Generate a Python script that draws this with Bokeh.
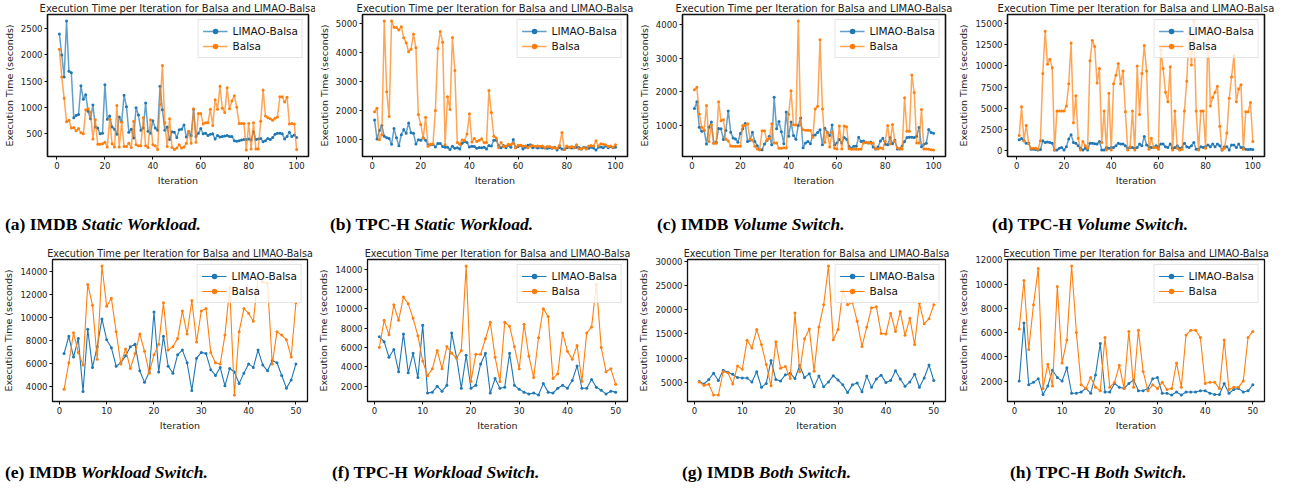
from bokeh.plotting import figure
from bokeh.layouts import column, row
from bokeh.models import Div, FixedTicker, Range1d, Legend, LegendItem
from bokeh.embed import file_html
from bokeh.resources import INLINE

# ---------------- data ----------------
iters_100 = list(range(1, 101))
iters_50 = list(range(1, 51))

a_limao = [2400, 2000, 1580, 2650, 1690, 1660, 800, 840, 860, 1410, 1150, 1240, 920, 780, 1040, 620, 600, 490, 500, 1430,
           770, 830, 620, 580, 480, 810, 720, 1230, 1010, 520, 580, 410, 990, 850, 560, 600, 1080, 540, 500, 740,
           600, 560, 1400, 950, 560, 620, 380, 530, 520, 420, 570, 580, 660, 430, 530, 460, 960, 440, 500, 590,
           490, 500, 460, 480, 490, 390, 460, 430, 440, 450, 460, 440, 440, 360, 350, 360, 370, 380, 380, 390,
           370, 530, 380, 390, 400, 340, 360, 400, 380, 420, 480, 500, 500, 490, 390, 440, 520, 440, 470, 420]
a_balsa = [2110, 1580, 1170, 720, 750, 600, 610, 550, 590, 510, 490, 950, 970, 900, 390, 760, 290, 290, 300, 330,
           240, 770, 300, 240, 1030, 240, 710, 250, 250, 310, 230, 730, 280, 260, 260, 800, 260, 230, 760, 280,
           260, 190, 1050, 1800, 700, 250, 780, 230, 190, 220, 280, 220, 240, 310, 540, 310, 970, 330, 880, 880,
           680, 700, 700, 960, 650, 1140, 960, 1400, 980, 900, 1370, 970, 1120, 1220, 1000, 690, 690, 690, 180, 690,
           200, 700, 200, 200, 730, 1330, 830, 800, 780, 750, 790, 810, 1200, 1200, 1100, 1190, 680, 690, 680, 190]

b_limao = [1660, 1000, 1300, 1470, 1100, 1050, 1020, 820, 1370, 1050, 770, 1150, 1330, 1200, 1560, 1220, 1200, 830, 980, 960,
           1050, 960, 800, 800, 810, 730, 850, 850, 740, 720, 720, 640, 750, 680, 700, 660, 860, 920, 880, 730,
           750, 740, 680, 710, 700, 720, 660, 780, 760, 960, 960, 780, 700, 780, 700, 790, 720, 990, 700, 740,
           780, 660, 720, 790, 800, 700, 730, 690, 720, 700, 690, 680, 700, 680, 720, 620, 720, 660, 640, 700,
           720, 690, 700, 720, 710, 660, 720, 700, 680, 720, 690, 620, 720, 730, 700, 760, 700, 740, 700, 720]
b_balsa = [1950, 2070, 980, 1150, 5100, 2640, 1780, 5100, 4880, 4870, 4790, 4900, 4520, 4340, 4030, 4120, 4650, 4170, 1850, 1510,
           1040, 1760, 750, 820, 830, 1990, 4140, 4730, 4360, 800, 2470, 2030, 4530, 3380, 880, 820, 970, 950, 1180, 1880,
           900, 1020, 920, 960, 1010, 880, 880, 2690, 1920, 1100, 1040, 700, 880, 740, 760, 820, 800, 860, 700, 790,
           790, 760, 760, 700, 760, 780, 740, 760, 740, 760, 700, 740, 740, 700, 700, 680, 780, 1230, 640, 760,
           700, 740, 700, 800, 660, 660, 700, 660, 760, 780, 760, 940, 760, 840, 820, 800, 740, 760, 720, 800]

c_limao = [1500, 1700, 950, 830, 850, 450, 950, 1100, 480, 500, 910, 900, 580, 850, 1430, 800, 630, 600, 500, 760,
           900, 1060, 520, 560, 800, 520, 400, 280, 280, 450, 550, 680, 430, 1840, 900, 1120, 810, 460, 1400, 680,
           1100, 700, 590, 1000, 1220, 340, 480, 520, 460, 700, 720, 790, 870, 430, 920, 800, 700, 1010, 420, 480,
           580, 480, 640, 590, 380, 320, 380, 380, 650, 520, 540, 500, 480, 500, 360, 300, 360, 540, 620, 440,
           430, 640, 460, 560, 300, 300, 390, 520, 640, 650, 650, 640, 680, 940, 370, 440, 470, 880, 790, 770]
c_balsa = [2060, 2130, 1340, 950, 860, 1590, 520, 1010, 470, 470, 1700, 1140, 1170, 590, 540, 390, 380, 380, 380, 380,
           1000, 1000, 1050, 590, 560, 380, 300, 280, 840, 840, 550, 620, 1050, 480, 480, 320, 320, 340, 330, 1330,
           2030, 1020, 1010, 4100, 1020, 870, 860, 860, 850, 650, 1490, 1570, 3540, 1490, 500, 800, 360, 800, 320, 300,
           980, 300, 980, 960, 310, 290, 300, 290, 290, 300, 480, 500, 490, 470, 480, 310, 300, 340, 310, 520,
           1000, 450, 1030, 520, 340, 310, 300, 1820, 830, 830, 2500, 1980, 480, 480, 1470, 300, 300, 290, 280, 270]

d_limao = [1300, 1450, 1200, 900, 900, 200, 200, 150, 100, 150, 1200, 1000, 1050, 1000, 900, 100, 100, 300, 400, 100,
           500, 1400, 1900, 1000, 900, 600, 300, 100, 300, 100, 900, 900, 850, 800, 1100, 100, 100, 400, 300, 400,
           400, 600, 900, 800, 800, 600, 300, 400, 400, 300, 400, 800, 600, 1700, 700, 500, 400, 400, 600, 500,
           800, 800, 500, 400, 800, 300, 400, 600, 300, 400, 900, 500, 400, 600, 1000, 200, 200, 500, 400, 500,
           700, 500, 800, 500, 800, 600, 100, 500, 500, 100, 700, 700, 400, 800, 400, 400, 200, 150, 200, 150]
d_balsa = [1800, 5200, 1200, 3000, 900, 300, 300, 300, 200, 1200, 9100, 14100, 10200, 10800, 9800, 100, 4700, 4700, 4700, 4700,
           5300, 7900, 12700, 3300, 6500, 1500, 100, 1100, 600, 300, 10600, 13000, 12300, 8000, 9700, 1000, 4700, 100, 6800, 100,
           7900, 8900, 10300, 7900, 9400, 4600, 100, 500, 4700, 100, 10000, 4300, 9100, 12400, 9400, 200, 1500, 400, 400, 200,
           11900, 9700, 6900, 5800, 9900, 100, 4700, 300, 100, 200, 4700, 8200, 14000, 10100, 15300, 4700, 100, 4700, 4700, 300,
           14500, 5300, 6300, 6900, 7600, 2900, 100, 300, 2100, 6200, 8700, 11200, 5800, 7300, 7800, 200, 4600, 4600, 5700, 1100]

e_limao = [6900, 8400, 6600, 8200, 3600, 9000, 5700, 7500, 9900, 8100, 7400, 5800, 6100, 6700, 7500, 7700, 5400, 4400, 5300, 10500,
           5300, 8400, 5800, 5200, 6800, 7200, 6100, 3700, 6500, 7000, 6900, 5500, 5000, 5700, 4100, 5600, 5300, 4300, 5200, 6000,
           5700, 7200, 5900, 5400, 6300, 6100, 5000, 3900, 4600, 6000]
e_balsa = [3800, 6100, 8700, 7000, 5900, 12900, 11100, 6400, 14500, 11000, 11700, 8800, 6000, 7300, 5600, 6900, 8600, 7100, 5200, 6800,
           7700, 11300, 7200, 7500, 8200, 10600, 8600, 11500, 7900, 10600, 10800, 7000, 6100, 6000, 8500, 12600, 3300, 8800, 10800, 10400,
           9700, 13600, 13100, 13000, 6000, 8800, 8500, 8100, 6600, 11300]

f_limao = [7100, 6600, 5000, 5800, 3500, 7400, 3400, 5400, 2900, 8300, 1300, 1400, 2000, 1500, 2100, 7500, 5000, 1800, 5200, 1800,
           2100, 4300, 5400, 1300, 2800, 1800, 1900, 5400, 2100, 1700, 1400, 1200, 1300, 1100, 2300, 1400, 1300, 1800, 2100, 1800,
           2600, 4100, 1800, 1800, 2700, 1900, 1600, 1200, 1500, 1400]
f_balsa = [6000, 8800, 7300, 10400, 8800, 11200, 10500, 9000, 7200, 4600, 3100, 3800, 5700, 3800, 6100, 5400, 4900, 5700, 14400, 2500,
           5300, 5300, 6900, 8600, 5000, 2500, 8600, 8200, 6100, 3800, 8400, 5100, 2900, 7000, 10000, 9200, 2800, 3300, 7500, 5600,
           4800, 6200, 2500, 7500, 8100, 12500, 6000, 3500, 3800, 2200]

g_limao = [5200, 4700, 5600, 6900, 5400, 7500, 7100, 6700, 6000, 5900, 5900, 5100, 7200, 4000, 4800, 9500, 5600, 5300, 6600, 6900,
           5800, 8500, 6000, 6800, 4100, 6300, 4100, 5100, 6400, 5500, 4500, 2900, 4500, 4900, 3100, 6300, 4000, 5700, 6500, 5000,
           5400, 7400, 5700, 4200, 5100, 6700, 4000, 5900, 8600, 5400]
g_balsa = [5100, 4400, 4600, 2400, 2400, 7200, 7000, 4700, 8400, 7700, 13700, 12100, 15900, 12800, 8700, 4300, 13400, 7900, 8300, 5800,
           19300, 7200, 14000, 16000, 7300, 16400, 21000, 29000, 13800, 15900, 24000, 21000, 21500, 17600, 12400, 16400, 20400, 20600, 15100, 15000,
           19200, 15500, 19600, 14700, 18200, 12800, 21300, 17100, 18100, 21000]

h_limao = [2000, 6800, 1700, 1900, 2200, 900, 1600, 2900, 2300, 2000, 3100, 1000, 1000, 1100, 1400, 1000, 2500, 5100, 1100, 1100,
           1800, 1500, 1400, 1800, 2100, 1200, 1200, 1400, 2200, 2300, 1000, 1000, 850, 1100, 850, 1100, 1100, 1100, 1200, 1200,
           1000, 900, 900, 1800, 1000, 1300, 1400, 1100, 1200, 1700]
h_balsa = [6300, 10300, 4600, 8300, 11300, 1400, 3400, 1600, 9800, 3500, 5400, 11500, 6000, 1700, 1400, 2300, 1500, 1200, 5600, 1500,
           1900, 3300, 1400, 6100, 1500, 6200, 2800, 1200, 1700, 1400, 1900, 1300, 1400, 3500, 1500, 5800, 6200, 6200, 5600, 1800,
           1900, 1900, 1400, 5400, 1300, 1500, 1500, 2000, 5600, 6100]

yticks_a = [500, 1000, 1500, 2000, 2500]
yticks_b = [1000, 2000, 3000, 4000, 5000]
yticks_c = [1000, 2000, 3000, 4000]
yticks_d = [0, 2500, 5000, 7500, 10000, 12500, 15000]
yticks_e = [4000, 6000, 8000, 10000, 12000, 14000]
yticks_f = [2000, 4000, 6000, 8000, 10000, 12000, 14000]
yticks_g = [5000, 10000, 15000, 20000, 25000, 30000]
yticks_h = [2000, 4000, 6000, 8000, 10000, 12000]
xticks_100 = [0, 20, 40, 60, 80, 100]
xticks_50 = [0, 10, 20, 30, 40, 50]

series_names = ["LIMAO-Balsa", "Balsa"]
plot_title = "Execution Time per Iteration for Balsa and LIMAO-Balsa"
x_label = "Iteration"
y_label = "Execution Time (seconds)"

cap_ids = ["(a)", "(b)", "(c)", "(d)", "(e)", "(f)", "(g)", "(h)"]
cap_bench = ["IMDB", "TPC-H", "IMDB", "TPC-H", "IMDB", "TPC-H", "IMDB", "TPC-H"]
cap_setting = ["Static Workload.", "Static Workload.", "Volume Switch.", "Volume Switch.",
               "Workload Switch.", "Workload Switch.", "Both Switch.", "Both Switch."]

BLUE = "#1f77b4"
ORANGE = "#ff7f0e"
FONT = "DejaVu Sans"

COL_W = [315, 320, 320, 320]
FIG_H = 188


def pad_range(vals, frac=0.05):
    lo, hi = min(vals), max(vals)
    pad = (hi - lo) * frac
    return Range1d(lo - pad, hi + pad)


def make_panel(x, limao, balsa, yticks, xticks, width, left, right, top_row):
    p = figure(width=width, height=FIG_H, output_backend="svg", toolbar_location=None,
               title=plot_title, min_border_left=left, min_border_right=right,
               min_border_top=0, min_border_bottom=0,
               x_range=pad_range(x), y_range=pad_range(list(limao) + list(balsa)))
    p.title.text_font = FONT
    p.title.text_font_size = "10px" if top_row else "9.6px"
    p.title.text_font_style = "normal"
    p.title.text_color = "#222222"
    p.title.align = "center"
    p.title.standoff = 1
    p.title.offset = 0
    p.grid.visible = False
    p.outline_line_color = "#111111"
    p.outline_line_width = 1.6 if top_row else 1.3
    p.background_fill_color = "white"
    p.border_fill_color = "white"

    lw = 1.5 if top_row else 1.1
    la = 0.7 if top_row else 1.0
    l1 = p.line(x, limao, line_color=BLUE, line_width=lw, line_alpha=la)
    s1 = p.scatter(x, limao, size=3, fill_color=BLUE, line_color=None)
    l2 = p.line(x, balsa, line_color=ORANGE, line_width=lw, line_alpha=la)
    s2 = p.scatter(x, balsa, size=3, fill_color=ORANGE, line_color=None)

    p.xaxis.ticker = FixedTicker(ticks=xticks)
    p.yaxis.ticker = FixedTicker(ticks=yticks)
    p.xaxis.axis_label = x_label
    p.yaxis.axis_label = y_label
    for ax in (p.xaxis[0], p.yaxis[0]):
        ax.axis_label_text_font = FONT
        ax.axis_label_text_font_size = "9.5px"
        ax.axis_label_text_font_style = "normal"
        ax.axis_label_text_color = "#222222"
        ax.axis_label_standoff = 3
        ax.major_label_text_font = FONT
        ax.major_label_text_font_size = "8.5px"
        ax.major_label_text_color = "#222222"
        ax.major_label_standoff = 2
        ax.major_tick_out = 3
        ax.major_tick_in = 0
        ax.minor_tick_out = 0
        ax.minor_tick_in = 0
        ax.axis_line_color = "#111111"
        ax.major_tick_line_color = "#111111"

    legend = Legend(items=[LegendItem(label=series_names[0], renderers=[l1, s1]),
                           LegendItem(label=series_names[1], renderers=[l2, s2])],
                    location="top_right")
    legend.label_text_font = FONT
    legend.label_text_font_size = "10.5px"
    legend.label_text_color = "#111111"
    legend.glyph_width = 25
    legend.glyph_height = 14
    legend.label_height = 14
    legend.label_standoff = 5
    legend.spacing = 1
    legend.padding = 4
    legend.margin = 5
    legend.border_line_color = "#cccccc"
    legend.border_line_width = 1
    legend.background_fill_alpha = 0.8
    p.add_layout(legend)
    return p


def caption(i, width, off, pad_top, height):
    html = ('<div style="margin-left:%dpx;padding-top:%dpx;font-family:\'Liberation Serif\',serif;'
            'font-size:17.5px;font-weight:bold;line-height:18px;white-space:nowrap;color:#000">'
            '%s %s <i>%s</i></div>') % (off, pad_top, cap_ids[i], cap_bench[i], cap_setting[i])
    return Div(text=html, width=width, height=height)


top_specs = [
    (iters_100, a_limao, a_balsa, yticks_a, 43, 7),
    (iters_100, b_limao, b_balsa, yticks_b, 40, 8),
    (iters_100, c_limao, c_balsa, yticks_c, 38, 10),
    (iters_100, d_limao, d_balsa, yticks_d, 42, 11),
]
bot_specs = [
    (iters_50, e_limao, e_balsa, yticks_e, 41, 8),
    (iters_50, f_limao, f_balsa, yticks_f, 42, 8),
    (iters_50, g_limao, g_balsa, yticks_g, 42, 10),
    (iters_50, h_limao, h_balsa, yticks_h, 42, 11),
]

top_figs = [make_panel(x, l, b, yt, xticks_100, COL_W[k], lb, rb, True)
            for k, (x, l, b, yt, lb, rb) in enumerate(top_specs)]
bot_figs = [make_panel(x, l, b, yt, xticks_50, COL_W[k], lb, rb, False)
            for k, (x, l, b, yt, lb, rb) in enumerate(bot_specs)]

top_offs = [0, 0, -3, 2]
bot_offs = [0, 2, 22, 20]
top_caps = [caption(k, COL_W[k], top_offs[k], 22, 47) for k in range(4)]
bot_caps = [caption(k + 4, COL_W[k], bot_offs[k], 25, 47) for k in range(4)]

layout = column(row(*top_figs), row(*top_caps), row(*bot_figs), row(*bot_caps))

open("out.html", "w").write(file_html(layout, INLINE))
